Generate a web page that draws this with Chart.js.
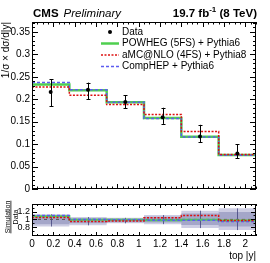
<!DOCTYPE html>
<html>
<head>
<meta charset="utf-8">
<script src="https://cdn.jsdelivr.net/npm/chart.js@4.4.1/dist/chart.umd.min.js"></script>
<style>
    html, body { margin: 0; padding: 0; background: #fff; }
    #wrap { position: relative; width: 270px; height: 263px; overflow: hidden; }
    #mainChart { position: absolute; left: 0; top: 0; }
    #ratioChart { position: absolute; left: 0; top: 200px; }
</style>
</head>
<body>
<div id="wrap">
    <canvas id="mainChart" width="270" height="200"></canvas>
    <canvas id="ratioChart" width="270" height="63"></canvas>
</div>
<script>
/* --------------------------
   DATA
-------------------------- */
const binEdges = [0, 0.35, 0.7, 1.05, 1.4, 1.75, 2.1];

const dataValues  = [0.216, 0.221, 0.194, 0.160, 0.117, 0.079];
const dataErrHigh = [0.244, 0.237, 0.209, 0.181, 0.143, 0.100];
const dataErrLow  = [0.184, 0.200, 0.180, 0.145, 0.104, 0.069];

const powhegValues  = [0.233, 0.220, 0.1935, 0.158, 0.1165, 0.076];
const amcnloValues  = [0.227, 0.209, 0.188, 0.166, 0.128, 0.077];
const comphepValues = [0.237, 0.221, 0.1935, 0.157, 0.116, 0.075];

const ratioPowheg  = [1.08, 0.99, 0.99, 0.98, 0.99, 0.97];
const ratioAmcnlo  = [1.05, 0.95, 0.96, 1.04, 1.10, 0.97];
const ratioComphep = [1.10, 1.00, 0.99, 0.98, 0.98, 0.95];

const bandOuterHigh = [1.13, 1.06, 1.04, 1.11, 1.22, 1.28];
const bandOuterLow  = [0.82, 0.85, 0.90, 0.88, 0.78, 0.73];
const bandInnerHigh = [1.10, 1.03, 1.02, 1.07, 1.15, 1.19];
const bandInnerLow  = [0.88, 0.90, 0.93, 0.92, 0.86, 0.82];

const xTicks = [0, 0.2, 0.4, 0.6, 0.8, 1, 1.2, 1.4, 1.6, 1.8, 2];
const yTicks = [0, 0.05, 0.1, 0.15, 0.2, 0.25, 0.3, 0.35];
const ratioTicks = [0.8, 1, 1.2];

const FONT = "'Liberation Sans', Arial, Helvetica, sans-serif";
const GREEN = "#4fcf4f";
const RED = "#dd1111";
const BLUE = "#5c5cf0";

/* --------------------------
   HELPERS
-------------------------- */
function stepPoints(values) {
    return binEdges.map((x, i) => ({ x, y: values[Math.min(i, values.length - 1)] }));
}

function binCenters() {
    return binEdges.slice(0, -1).map((e, i) => (e + binEdges[i + 1]) / 2);
}

function fixedBox(w, h) {
    return s => {
        if (w !== null) s.width = w;
        if (h !== null) s.height = h;
        s.paddingTop = 0; s.paddingBottom = 0;
        s.paddingLeft = 0; s.paddingRight = 0;
    };
}

// ROOT style ticks, pointing into the frame, on all four sides
function drawFrameAndTicks(chart, t) {
    const { ctx, chartArea: a, scales: { x, y } } = chart;
    ctx.save();
    ctx.strokeStyle = "#000";
    ctx.lineWidth = 1;
    ctx.beginPath();
    const nx = Math.round((x.max - x.min) / t.xMinorStep);
    for (let i = 0; i <= nx; i++) {
        const v = x.min + i * t.xMinorStep;
        const major = xTicks.some(m => Math.abs(m - v) < 1e-6);
        const len = major ? t.xMajor : t.xMinor;
        const px = Math.round(x.getPixelForValue(v)) + 0.5;
        ctx.moveTo(px, a.bottom); ctx.lineTo(px, a.bottom - len);
        ctx.moveTo(px, a.top); ctx.lineTo(px, a.top + len);
    }
    const start = Math.ceil(y.min / t.yMinorStep - 1e-6);
    const end = Math.floor(y.max / t.yMinorStep + 1e-6);
    for (let i = start; i <= end; i++) {
        const v = i * t.yMinorStep;
        const major = t.yMajors.some(m => Math.abs(m - v) < 1e-6);
        const len = major ? t.yMajor : t.yMinor;
        const py = Math.round(y.getPixelForValue(v)) + 0.5;
        ctx.moveTo(a.left, py); ctx.lineTo(a.left + len, py);
        ctx.moveTo(a.right, py); ctx.lineTo(a.right - len, py);
    }
    ctx.stroke();
    ctx.strokeRect(a.left + 0.5, a.top + 0.5, a.width - 1, a.height - 1);
    ctx.restore();
}

/* --------------------------
   MAIN PANEL PLUGIN
-------------------------- */
const mainDecor = {
    id: "mainDecor",
    afterDatasetsDraw(chart) {
        const { ctx, scales: { x, y } } = chart;
        ctx.save();
        ctx.strokeStyle = "#000";
        ctx.lineWidth = 1;
        ctx.beginPath();
        binCenters().forEach((c, i) => {
            const px = Math.round(x.getPixelForValue(c)) + 0.5;
            const top = y.getPixelForValue(dataErrHigh[i]);
            const bot = y.getPixelForValue(dataErrLow[i]);
            ctx.moveTo(px, top); ctx.lineTo(px, bot);
            ctx.moveTo(px - 2, Math.round(top) + 0.5); ctx.lineTo(px + 2, Math.round(top) + 0.5);
            ctx.moveTo(px - 2, Math.round(bot) + 0.5); ctx.lineTo(px + 2, Math.round(bot) + 0.5);
        });
        ctx.stroke();
        ctx.restore();
    },
    afterDraw(chart) {
        const ctx = chart.ctx;
        drawFrameAndTicks(chart, {
            xMinorStep: 0.05, xMajor: 5, xMinor: 2.5,
            yMinorStep: 0.01, yMajors: yTicks, yMajor: 6, yMinor: 3
        });

        ctx.save();
        ctx.fillStyle = "#000";
        ctx.textBaseline = "alphabetic";
        ctx.textAlign = "left";

        // header
        ctx.font = "bold 11.5px " + FONT;
        ctx.fillText("CMS", 33, 17);
        const cmsW = ctx.measureText("CMS").width;
        ctx.font = "italic 11.5px " + FONT;
        ctx.fillText("Preliminary", 33 + cmsW + 5, 17);

        ctx.font = "bold 11.5px " + FONT;
        const w1 = ctx.measureText("19.7 fb").width;
        const w3 = ctx.measureText(" (8 TeV)").width;
        ctx.font = "bold 8px " + FONT;
        const w2 = ctx.measureText("-1").width;
        let xs = 257 - (w1 + w2 + w3);
        ctx.font = "bold 11.5px " + FONT;
        ctx.fillText("19.7 fb", xs, 17);
        ctx.font = "bold 8px " + FONT;
        ctx.fillText("-1", xs + w1, 12);
        ctx.font = "bold 11.5px " + FONT;
        ctx.fillText(" (8 TeV)", xs + w1 + w2, 17);

        // legend
        const rowY = [32, 43.5, 55, 66.5];
        const mx0 = 101, mx1 = 119, tx = 122;
        ctx.font = "10px " + FONT;
        ctx.textBaseline = "middle";
        chart.data.datasets.forEach((ds, i) => {
            const yy = rowY[i];
            if (ds.showLine === false) {
                ctx.beginPath();
                ctx.arc((mx0 + mx1) / 2, yy, 2, 0, Math.PI * 2);
                ctx.fill();
            } else {
                ctx.save();
                ctx.strokeStyle = ds.borderColor;
                ctx.lineWidth = ds.borderWidth;
                ctx.setLineDash(ds.borderDash || []);
                ctx.beginPath();
                ctx.moveTo(mx0, yy); ctx.lineTo(mx1, yy);
                ctx.stroke();
                ctx.restore();
            }
            ctx.fillText(ds.label, tx, yy);
        });
        ctx.restore();
    }
};

/* --------------------------
   RATIO PANEL PLUGIN
-------------------------- */
const ratioDecor = {
    id: "ratioDecor",
    beforeDatasetsDraw(chart) {
        const { ctx, scales: { x, y } } = chart;
        ctx.save();
        ctx.strokeStyle = "rgba(60,60,120,0.75)";
        ctx.lineWidth = 1;
        ctx.beginPath();
        binCenters().forEach((c, i) => {
            const px = Math.round(x.getPixelForValue(c)) + 0.5;
            ctx.moveTo(px, y.getPixelForValue(bandOuterHigh[i]));
            ctx.lineTo(px, y.getPixelForValue(bandOuterLow[i]));
        });
        ctx.stroke();
        ctx.restore();
    },
    afterDraw(chart) {
        const ctx = chart.ctx;
        drawFrameAndTicks(chart, {
            xMinorStep: 0.05, xMajor: 4, xMinor: 2,
            yMinorStep: 0.1, yMajors: ratioTicks, yMajor: 5, yMinor: 2.5
        });

        // Simulation / Data title
        const a = chart.chartArea;
        const cy = (a.top + a.bottom) / 2 - 3;
        ctx.save();
        ctx.translate(11, cy);
        ctx.rotate(-Math.PI / 2);
        ctx.fillStyle = "#000";
        ctx.font = "7px " + FONT;
        ctx.textAlign = "center";
        ctx.textBaseline = "alphabetic";
        const sw = ctx.measureText("Simulation").width;
        ctx.fillText("Simulation", 0, -1.5);
        ctx.textBaseline = "top";
        ctx.fillText("Data", 0, 1.5);
        ctx.fillRect(-sw / 2, -0.5, sw, 0.8);
        ctx.restore();
    }
};

/* --------------------------
   MAIN CHART
-------------------------- */
new Chart(document.getElementById("mainChart"), {
    type: "scatter",
    data: {
        datasets: [
            {
                label: "Data",
                data: binCenters().map((c, i) => ({ x: c, y: dataValues[i] })),
                showLine: false,
                pointRadius: 2,
                pointBackgroundColor: "#000",
                pointBorderWidth: 0,
                order: 0
            },
            {
                type: "line",
                label: "POWHEG (5FS) + Pythia6",
                data: stepPoints(powhegValues),
                stepped: true,
                borderColor: GREEN,
                borderWidth: 2.5,
                pointRadius: 0,
                fill: false,
                order: 3
            },
            {
                type: "line",
                label: "aMC@NLO (4FS) + Pythia8",
                data: stepPoints(amcnloValues),
                stepped: true,
                borderColor: RED,
                borderWidth: 1.5,
                borderDash: [2, 1.5],
                pointRadius: 0,
                fill: false,
                order: 1
            },
            {
                type: "line",
                label: "CompHEP + Pythia6",
                data: stepPoints(comphepValues),
                stepped: true,
                borderColor: BLUE,
                borderWidth: 1.5,
                borderDash: [3, 2],
                pointRadius: 0,
                fill: false,
                order: 2
            }
        ]
    },
    options: {
        responsive: false,
        animation: false,
        devicePixelRatio: 1,
        layout: { padding: { left: 0, right: 14, top: 22, bottom: 11 } },
        plugins: { legend: { display: false }, tooltip: { enabled: false } },
        scales: {
            x: {
                type: "linear", min: 0, max: 2.1,
                ticks: { display: false },
                grid: { display: false, drawTicks: false },
                border: { display: false },
                afterFit: fixedBox(null, 0)
            },
            y: {
                type: "linear", min: 0, max: 0.372,
                afterBuildTicks: s => { s.ticks = yTicks.map(v => ({ value: v })); },
                ticks: {
                    color: "#000", padding: 2,
                    font: { family: FONT, size: 10 },
                    callback: v => String(v)
                },
                grid: { display: false, drawTicks: false },
                border: { display: false },
                title: {
                    display: true, text: "1/\u03c3 \u00d7 d\u03c3/d|y|", align: "end",
                    color: "#000", font: { family: FONT, size: 10 },
                    padding: { top: 0, bottom: 0 }
                },
                afterFit: fixedBox(32, null)
            }
        }
    },
    plugins: [mainDecor]
});

/* --------------------------
   RATIO CHART
-------------------------- */
new Chart(document.getElementById("ratioChart"), {
    type: "line",
    data: {
        datasets: [
            { label: "POWHEG", data: stepPoints(ratioPowheg), stepped: true, borderColor: GREEN, borderWidth: 2, pointRadius: 0, fill: false, order: 3 },
            { label: "aMC@NLO", data: stepPoints(ratioAmcnlo), stepped: true, borderColor: RED, borderWidth: 1.5, borderDash: [2, 1.5], pointRadius: 0, fill: false, order: 1 },
            { label: "CompHEP", data: stepPoints(ratioComphep), stepped: true, borderColor: BLUE, borderWidth: 1.5, borderDash: [3, 2], pointRadius: 0, fill: false, order: 2 },
            { label: "unity", data: [{ x: 0, y: 1 }, { x: 2.1, y: 1 }], borderColor: "#555", borderWidth: 1, borderDash: [3, 3], pointRadius: 0, fill: false, order: 4 },
            { label: "stat hi", data: stepPoints(bandInnerHigh), stepped: true, borderWidth: 0, pointRadius: 0, backgroundColor: "#a4a6c9", fill: "+1", order: 5 },
            { label: "stat lo", data: stepPoints(bandInnerLow), stepped: true, borderWidth: 0, pointRadius: 0, fill: false, order: 6 },
            { label: "total hi", data: stepPoints(bandOuterHigh), stepped: true, borderWidth: 0, pointRadius: 0, backgroundColor: "#cdcde3", fill: "+1", order: 7 },
            { label: "total lo", data: stepPoints(bandOuterLow), stepped: true, borderWidth: 0, pointRadius: 0, fill: false, order: 8 }
        ]
    },
    options: {
        responsive: false,
        animation: false,
        devicePixelRatio: 1,
        layout: { padding: { left: 0, right: 14, top: 4, bottom: 0 } },
        plugins: {
            legend: { display: false },
            tooltip: { enabled: false },
            filler: { drawTime: "beforeDatasetsDraw" }
        },
        scales: {
            x: {
                type: "linear", min: 0, max: 2.1,
                afterBuildTicks: s => { s.ticks = xTicks.map(v => ({ value: v })); },
                ticks: {
                    color: "#000", padding: 2, autoSkip: false, maxRotation: 0,
                    font: { family: FONT, size: 10 },
                    callback: v => String(v)
                },
                grid: { display: false, drawTicks: false },
                border: { display: false },
                title: {
                    display: true, text: "top |y|", align: "end",
                    color: "#000", font: { family: FONT, size: 10 },
                    padding: { top: 0, bottom: 1 }
                },
                afterFit: fixedBox(null, 27)
            },
            y: {
                type: "linear", min: 0.58, max: 1.39,
                afterBuildTicks: s => { s.ticks = ratioTicks.map(v => ({ value: v })); },
                ticks: {
                    color: "#000", padding: 2,
                    font: { family: FONT, size: 9 },
                    callback: v => String(v)
                },
                grid: { display: false, drawTicks: false },
                border: { display: false },
                afterFit: fixedBox(32, null)
            }
        }
    },
    plugins: [ratioDecor]
});
</script>
</body>
</html>
